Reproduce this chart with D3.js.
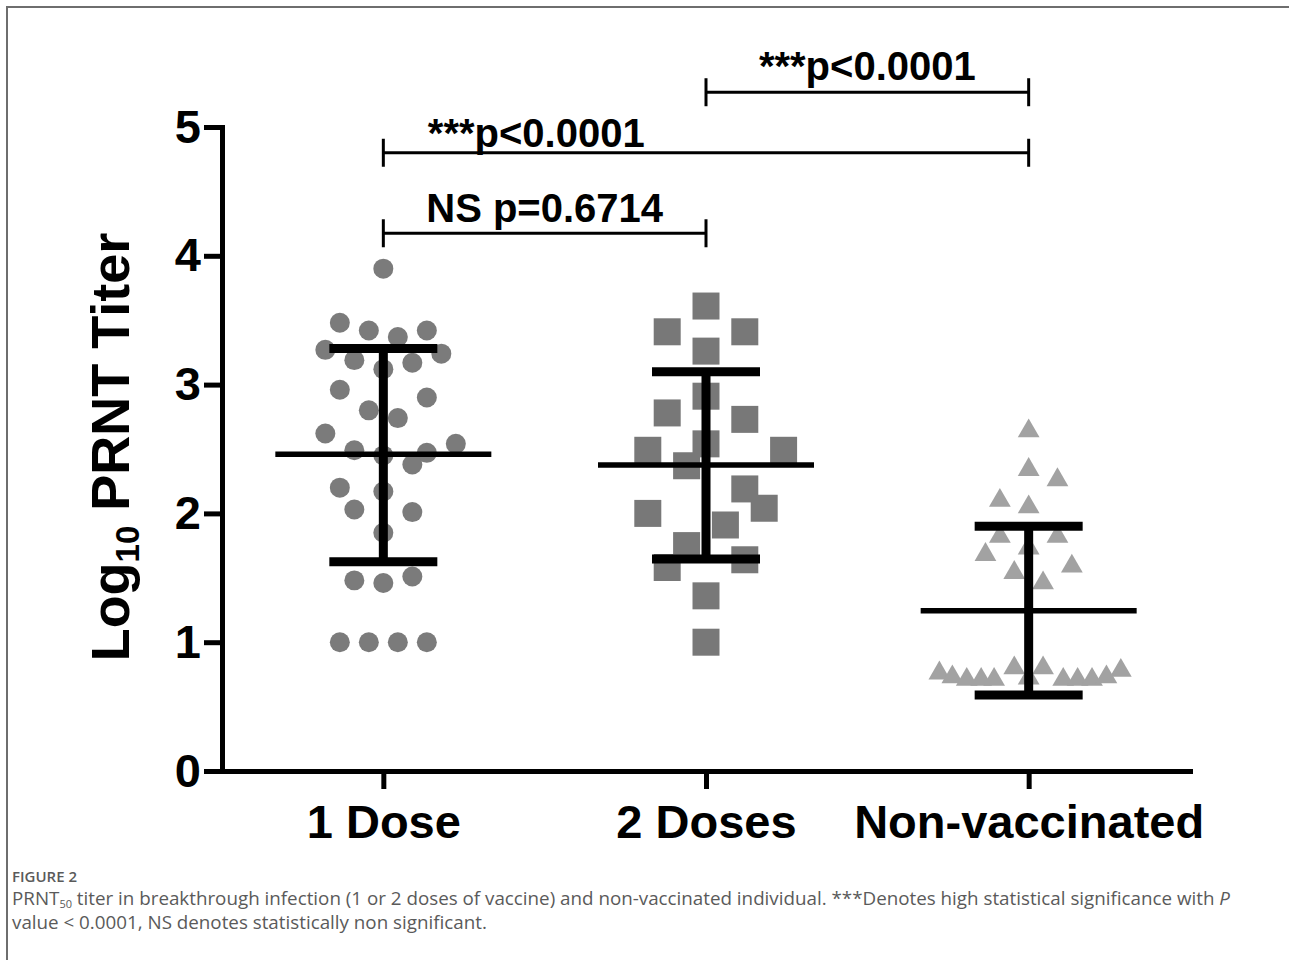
<!DOCTYPE html>
<html>
<head>
<meta charset="utf-8">
<title>PRNT50 titer by vaccination status</title>
<script src="https://d3js.org/d3.v7.min.js"></script>
<style>
    body { margin: 0; background: white; }
    svg text { font-family: "Liberation Sans", Arial, sans-serif; font-weight: 700; fill: black; }
    svg text.caption { font-family: "Open Sans", "Noto Sans", sans-serif; font-weight: 400; fill: #5a5a5a; }
</style>
</head>
<body>
<div id="chart"></div>
<script>

// values (log10 titer); slots = horizontal jitter column of each dot
const categories = ["1 Dose", "2 Doses", "Non-vaccinated"];

const dose1Values = [3.90, 3.48, 3.42, 3.37, 3.42, 3.27, 3.24, 3.19, 3.17, 3.12, 2.96, 2.90, 2.80, 2.74,
    2.62, 2.54, 2.49, 2.45, 2.47, 2.38, 2.20, 2.17, 2.03, 2.01, 1.85, 1.48, 1.46, 1.51, 1.00, 1.00, 1.00, 1.00];
const dose1Slots = [0, -3, -1, 1, 3, -4, 4, -2, 2, 0, -3, 3, -1, 1,
    -4, 5, -2, 0, 3, 2, -3, 0, -2, 2, 0, -2, 0, 2, -3, -1, 1, 3];

const dose2Values = [3.61, 3.41, 3.41, 3.26, 2.91, 2.78, 2.73, 2.49, 2.54, 2.49, 2.37, 2.19, 2.04, 2.00,
    1.91, 1.75, 1.64, 1.58, 1.36, 1.00];
const dose2Slots = [0, -2, 2, 0, 0, -2, 2, -3, 0, 4, -1, 2, 3, -3, 1, -1, 2, -2, 0, 0];

const nonVaxValues = [2.64, 2.34, 2.26, 2.10, 2.05, 1.82, 1.82, 1.73, 1.68, 1.59, 1.54, 1.46,
    0.76, 0.73, 0.71, 0.71, 0.71, 0.80, 0.72, 0.80, 0.71, 0.71, 0.71, 0.73, 0.78];
const nonVaxSlots = [0, 0, 2, -2, 0, -2, 2, 0, -3, 3, -1, 1,
    -6.2, -5.3, -4.3, -3.3, -2.4, -1, 0, 1, 2.4, 3.4, 4.4, 5.4, 6.4];

// mean and +/- SD per group
const groupMeans = [2.46, 2.375, 1.245];
const groupUpper = [3.28, 3.10, 1.90];
const groupLower = [1.625, 1.645, 0.59];

const yTicks = [0, 1, 2, 3, 4, 5];

// significance brackets
const compFrom = [0, 0, 1];
const compTo = [1, 2, 2];
const compLevel = [4.175, 4.80, 5.27];
const compLabels = ["NS p=0.6714", "***p<0.0001", "***p<0.0001"];
const compLabelLevel = [4.265, 4.845, 5.365];
const compLabelPos = [0.5, 0.237, 0.5];

// ---- layout
const width = 1289, height = 960;
const svg = d3.select("#chart").append("svg")
    .attr("width", width)
    .attr("height", height);

// figure frame (left + top edge)
svg.append("path")
    .attr("d", "M7," + height + "V7H" + width)
    .attr("fill", "none")
    .attr("stroke", "#6e6e6e")
    .attr("stroke-width", 2);

const y = d3.scaleLinear().domain([0, 5]).range([771, 127]);
const x = d3.scalePoint().domain(categories).range([222, 1190]).padding(0.5);

const groups = [
    { values: dose1Values, slots: dose1Slots, symbol: d3.symbolCircle, size: 314, color: "#7b7b7b", slotW: 14.5 },
    { values: dose2Values, slots: dose2Slots, symbol: d3.symbolSquare, size: 729, color: "#787878", slotW: 19.4 },
    { values: nonVaxValues, slots: nonVaxSlots, symbol: d3.symbolTriangle, size: 205, color: "#a2a2a2", slotW: 14.4 }
];

// points
groups.forEach(function (g, gi) {
    const cx = x(categories[gi]);
    const sx = d3.scaleLinear().domain([0, 1]).range([cx, cx + g.slotW]);
    svg.append("g").selectAll("path")
        .data(g.values.map((v, i) => ({ v: v, s: g.slots[i] })))
        .join("path")
        .attr("d", d3.symbol().type(g.symbol).size(g.size))
        .attr("transform", d => "translate(" + sx(d.s) + "," + y(d.v) + ")")
        .attr("fill", g.color);
});

// mean +/- SD bars
const bars = svg.append("g").attr("stroke", "black");
categories.forEach(function (c, i) {
    const cx = x(c);
    bars.append("line")
        .attr("x1", cx).attr("x2", cx)
        .attr("y1", y(groupUpper[i])).attr("y2", y(groupLower[i]))
        .attr("stroke-width", 9);
    [groupUpper[i], groupLower[i]].forEach(function (v) {
        bars.append("line")
            .attr("x1", cx - 54).attr("x2", cx + 54)
            .attr("y1", y(v)).attr("y2", y(v))
            .attr("stroke-width", 9);
    });
    bars.append("line")
        .attr("x1", cx - 108).attr("x2", cx + 108)
        .attr("y1", y(groupMeans[i])).attr("y2", y(groupMeans[i]))
        .attr("stroke-width", 5.5);
});

// axes
const yAxis = svg.append("g")
    .attr("transform", "translate(222,0)")
    .call(d3.axisLeft(y).tickValues(yTicks).tickFormat(d3.format("d"))
        .tickSize(18).tickSizeOuter(0).tickPadding(3));

const xAxis = svg.append("g")
    .attr("transform", "translate(0,771)")
    .call(d3.axisBottom(x).tickSize(18).tickSizeOuter(0));

[yAxis, xAxis].forEach(function (a) {
    a.select(".domain").attr("stroke-width", 5).attr("stroke-linecap", "square");
    a.selectAll(".tick line").attr("stroke-width", 5);
});
yAxis.selectAll(".tick text").style("font-size", "47px");
xAxis.selectAll(".tick text")
    .style("font-size", "47px")
    .attr("y", 67)
    .attr("dy", 0);

// y axis title with subscript
const yTitle = svg.append("text")
    .attr("transform", "translate(129,447) rotate(-90)")
    .attr("text-anchor", "middle")
    .style("font-size", "54px");
yTitle.append("tspan").text("Log");
yTitle.append("tspan").text("10").style("font-size", "33px").attr("dy", 10);
yTitle.append("tspan").text(" PRNT Titer").attr("dy", -10);

// significance brackets
const br = svg.append("g");
compLabels.forEach(function (lab, i) {
    const x1 = x(categories[compFrom[i]]), x2 = x(categories[compTo[i]]);
    const by = y(compLevel[i]);
    br.append("line")
        .attr("x1", x1).attr("x2", x2).attr("y1", by).attr("y2", by)
        .attr("stroke", "black").attr("stroke-width", 3);
    [x1, x2].forEach(function (xx) {
        br.append("line")
            .attr("x1", xx).attr("x2", xx).attr("y1", by - 14).attr("y2", by + 14)
            .attr("stroke", "black").attr("stroke-width", 3);
    });
    br.append("text")
        .attr("x", x1 + (x2 - x1) * compLabelPos[i])
        .attr("y", y(compLabelLevel[i]))
        .attr("text-anchor", "middle")
        .style("font-size", "40px")
        .text(lab);
});

// caption
svg.append("text")
    .attr("class", "caption")
    .attr("x", 12).attr("y", 882)
    .style("font-size", "15px")
    .style("font-weight", 600)
    .text("FIGURE 2");

const cap1 = svg.append("text")
    .attr("class", "caption")
    .attr("x", 12).attr("y", 905)
    .style("font-size", "17px");
cap1.append("tspan").text("PRNT");
cap1.append("tspan").text("50").style("font-size", "11px").attr("dy", 3);
cap1.append("tspan").attr("dy", -3)
    .text(" titer in breakthrough infection (1 or 2 doses of vaccine) and non-vaccinated individual. ***Denotes high statistical significance with ");
cap1.append("tspan").text("P").style("font-style", "italic");

const cap2 = svg.append("text")
    .attr("class", "caption")
    .attr("x", 12).attr("y", 929)
    .style("font-size", "17px")
    .text("value < 0.0001, NS denotes statistically non significant.");

// fit caption width to the figure's text block
const capW = cap1.node().getComputedTextLength();
const capSize = 17 * 1220 / capW;
cap1.style("font-size", capSize + "px");
cap2.style("font-size", capSize + "px");

</script>
</body>
</html>
